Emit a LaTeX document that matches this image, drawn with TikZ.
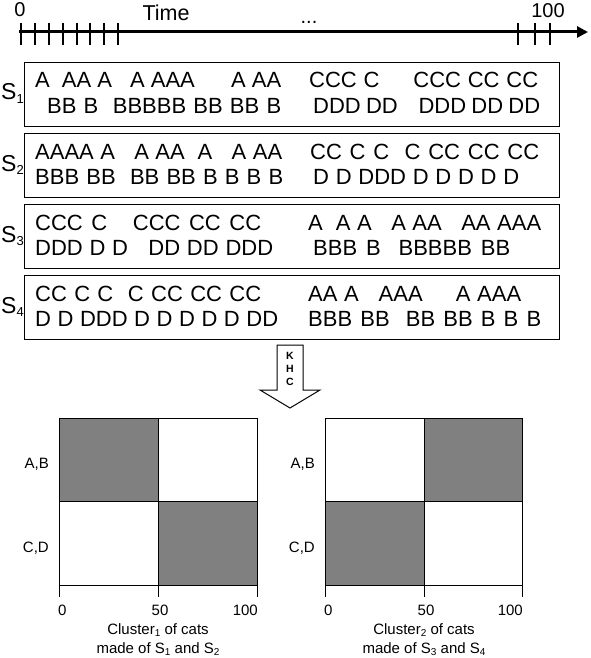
\documentclass[tikz,border=0pt]{standalone}
\usepackage{fontspec}
\setmainfont{Liberation Sans}
\usetikzlibrary{arrows.meta}
\newcommand{\fs}[1]{\fontsize{#1}{#1}\selectfont}
\newcommand{\ssub}[1]{\raisebox{-3pt}{\fs{13}#1}}
\newcommand{\csub}[1]{\raisebox{-2pt}{\fs{10}#1}}
\newcommand{\seqrow}[5]{%
  \node[seqtext] (#1) at (#2,#4) {\makebox[\dimexpr #3pt-#2pt\relax][s]{#5}};}
\tikzset{
  seqtext/.style={anchor=base west, inner sep=0pt, font=\fs{22}},
  seqbox/.style={draw, line width=1pt, anchor=north west, minimum width=535pt, minimum height=64pt, inner sep=0pt},
  slab/.style={anchor=base west, inner sep=0pt, font=\fs{23}},
  tlab/.style={anchor=base, inner sep=0pt, font=\fs{20}},
  tickmark/.style={line width=2.5pt},
  khc/.style={inner sep=0pt, font=\fs{10.5}\bfseries},
  cell/.style={fill=black!50, draw=none},
  gridline/.style={draw, line width=1pt},
  axlab/.style={inner sep=0pt, font=\fs{15}},
  captext/.style={anchor=base, inner sep=0pt, font=\fs{15}},
}
\begin{document}
\begin{tikzpicture}[x=1pt,y=-1pt]
\useasboundingbox (0,0) rectangle (590,658);

% timeline
\coordinate (t0) at (19,32);
\coordinate (t1) at (588,32);
\draw[line width=3pt, -{Triangle[length=11pt,width=11pt]}] (t0) -- (t1);
\foreach \x in {21,35,49,63,77,90,104,118,518,535,550}
  \draw[tickmark] (\x,23) -- (\x,45);
\node[tlab] (l0) at (20,17) {0};
\node[tlab, font=\fs{21.5}] (ltime) at (166,21) {Time};
\node[tlab] (ldots) at (309,24) {...};
\node[tlab] (l100) at (548,18) {100};

% sequence boxes
\node[seqbox] (box1) at (24,62) {};
\node[seqbox] (box2) at (24,133) {};
\node[seqbox] (box3) at (24,204) {};
\node[seqbox] (box4) at (24,275) {};

\node[slab] (s1) at (1,100) {S\ssub{1}};
\node[slab] (s2) at (1,171) {S\ssub{2}};
\node[slab] (s3) at (1,242) {S\ssub{3}};
\node[slab] (s4) at (1,313) {S\ssub{4}};

\seqrow{b1l1}{35}{281}{88}{A~~AA~A~~~A~AAA~~~~~~A~AA}
\seqrow{b1r1}{309}{538}{88}{CCC~C~~~~~CCC~CC~CC}
\seqrow{b1l2}{47}{281}{113.5}{BB~B~~BBBBB~BB~BB~B}
\seqrow{b1r2}{313}{540}{113.5}{DDD~DD~~~~DDD~DD~DD}

\seqrow{b2l1}{35}{282}{159}{AAAA~A~~~A~AA~~A~~~A~AA}
\seqrow{b2r1}{310}{539}{159}{CC~C~C~~C~CC~CC~CC}
\seqrow{b2l2}{35}{283}{184.5}{BBB~BB~~BB~BB~B~B~B~B}
\seqrow{b2r2}{313}{519}{184.5}{D~D~DDD~D~D~D~D~D}

\seqrow{b3l1}{35}{261}{230}{CCC~C~~~CCC~CC~CC}
\seqrow{b3r1}{308}{541}{230}{A~~A~A~~~A~AA~~~AA~AAA}
\seqrow{b3l2}{35}{273}{255.5}{DDD~D~D~~~DD~DD~DDD}
\seqrow{b3r2}{313}{510}{255.5}{BBB~B~~BBBBB~BB}

\seqrow{b4l1}{35}{261}{301}{CC~C~C~~C~CC~CC~CC}
\seqrow{b4r1}{308}{521}{301}{AA~A~~~AAA~~~~~A~AAA}
\seqrow{b4l2}{35}{278}{326.5}{D~D~DDD~D~D~D~D~D~DD}
\seqrow{b4r2}{308}{541}{326.5}{BBB~BB~~BB~BB~B~B~B}

% KHC arrow
\draw[line width=1pt, fill=white] (277,345) -- (303,345) -- (303,390) -- (320,390)
  -- (290,408) -- (260,390) -- (277,390) -- cycle;
\node[khc] (k) at (290,356) {K};
\node[khc] (h) at (290,369) {H};
\node[khc] (c) at (290,382) {C};

% left chart
\fill[cell] (59,418) rectangle (158,501.5);
\fill[cell] (158,501.5) rectangle (257,585);
\draw[gridline] (59,418) rectangle (257,585);
\draw[gridline] (158,418) -- (158,585);
\draw[gridline] (59,501.5) -- (257,501.5);
\foreach \x in {59,158,257} \draw[line width=1pt] (\x,585) -- (\x,597);
\node[axlab, anchor=east] (lab1) at (49,464) {A,B};
\node[axlab, anchor=east] (lcd1) at (49,548) {C,D};
\node[axlab, anchor=base west] (x01) at (58,615) {0};
\node[axlab, anchor=base] (x501) at (160,615) {50};
\node[axlab, anchor=base east] (x1001) at (258,615) {100};
\node[captext] (c11) at (158,634.5) {Cluster\csub{1} of cats};
\node[captext] (c12) at (158,653) {made of S\csub{1} and S\csub{2}};

% right chart
\fill[cell] (424,418) rectangle (522,501.5);
\fill[cell] (325,501.5) rectangle (424,585);
\draw[gridline] (325,418) rectangle (522,585);
\draw[gridline] (424,418) -- (424,585);
\draw[gridline] (325,501.5) -- (522,501.5);
\foreach \x in {325,424,522} \draw[line width=1pt] (\x,585) -- (\x,597);
\node[axlab, anchor=east] (lab2) at (315,464) {A,B};
\node[axlab, anchor=east] (lcd2) at (315,548) {C,D};
\node[axlab, anchor=base west] (x02) at (324,615) {0};
\node[axlab, anchor=base] (x502) at (426,615) {50};
\node[axlab, anchor=base east] (x1002) at (523,615) {100};
\node[captext] (c21) at (424,634.5) {Cluster\csub{2} of cats};
\node[captext] (c22) at (424,653) {made of S\csub{3} and S\csub{4}};
\end{tikzpicture}
\end{document}
